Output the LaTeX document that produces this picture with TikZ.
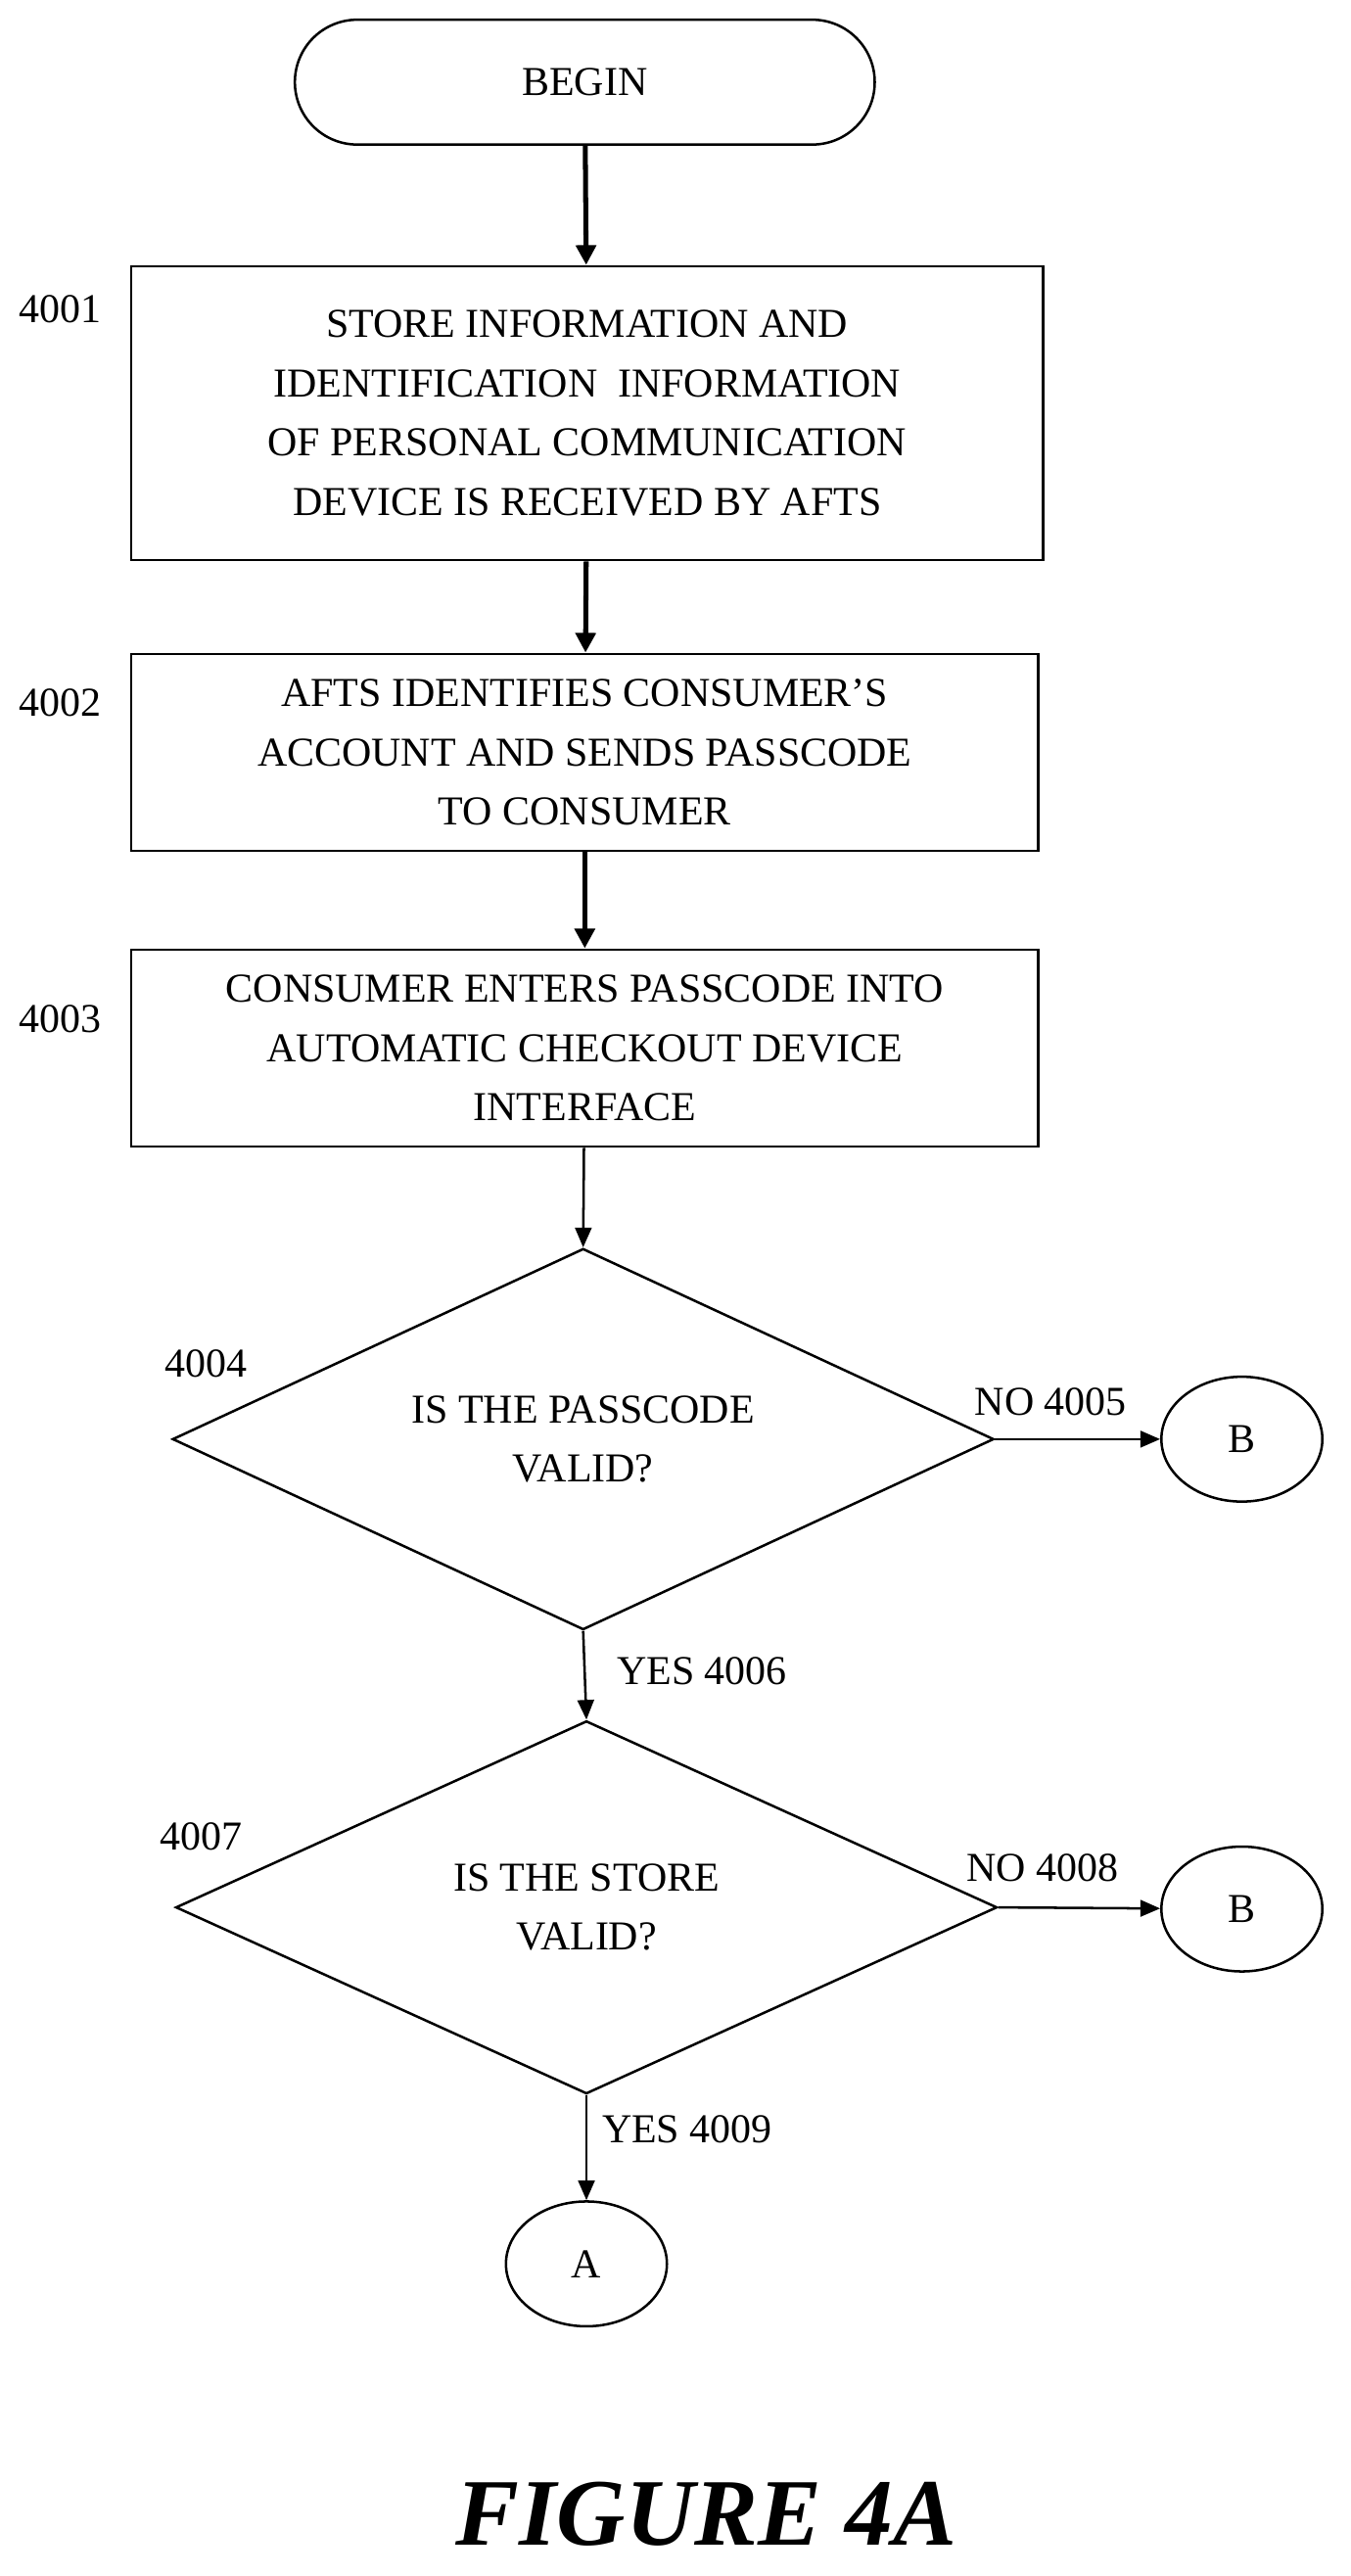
\documentclass[tikz,border=0pt]{standalone}
\usepackage{fontspec}
\setmainfont{Liberation Serif}
\usetikzlibrary{shapes.geometric,arrows.meta}
\begin{document}
\begin{tikzpicture}[x=1pt,y=-1pt,
  every node/.style={font=\fontsize{25}{36}\selectfont, align=center},
  box/.style={draw, line width=1.5pt, inner sep=0pt},
  dia/.style={draw, line width=1.5pt, diamond, inner sep=0pt},
  circ/.style={draw, line width=1.5pt, ellipse, minimum width=98pt, minimum height=76pt},
  thick arr/.style={line width=3pt, -{Triangle[length=12pt,width=12pt]}},
  thin arr/.style={line width=1.5pt, -{Triangle[length=12pt,width=10pt]}},
  lab/.style={anchor=west}]
\useasboundingbox (0,0) rectangle (822,1568);
\node[draw, line width=1.5pt, rounded corners=38pt, minimum width=353pt, minimum height=76pt] (begin) at (356,50) {BEGIN};
\node[box, minimum width=555pt, minimum height=179pt] (b1) at (357.5,251.5) {STORE INFORMATION AND\\IDENTIFICATION\ \ INFORMATION\\OF PERSONAL COMMUNICATION\\DEVICE IS RECEIVED BY AFTS};
\node[box, minimum width=552pt, minimum height=120pt] (b2) at (356,458) {AFTS IDENTIFIES CONSUMER’S\\ACCOUNT AND SENDS PASSCODE\\TO CONSUMER};
\node[box, minimum width=552pt, minimum height=120pt] (b3) at (356,638) {CONSUMER ENTERS PASSCODE INTO\\AUTOMATIC CHECKOUT DEVICE\\INTERFACE};
\node[dia, minimum width=500pt, minimum height=232pt, aspect=2.155] (d1) at (355,876) {};
\node at (355,876) {IS THE PASSCODE\\VALID?};
\node[dia, minimum width=500pt, minimum height=227pt, aspect=2.2] (d2) at (357,1161) {};
\node at (357,1161) {IS THE STORE\\VALID?};
\node[circ] (B1) at (756,876) {B};
\node[circ] (B2) at (756,1162) {B};
\node[circ] (A) at (357,1378) {A};
\draw[thick arr] (begin) -- (b1);
\draw[thick arr] (b1) -- (b2);
\draw[thick arr] (b2) -- (b3);
\draw[thin arr] (b3) -- (d1.north);
\draw[thin arr] (d1.east) -- (B1);
\draw[thin arr] (d1.south) -- (d2.north);
\draw[thin arr] (d2.east) -- (B2);
\draw[thin arr] (d2.south) -- (A);
\node[lab] (l1) at (8,188) {4001};
\node[lab] (l2) at (8,428) {4002};
\node[lab] (l3) at (8,620) {4003};
\node[lab] (l4) at (97,830) {4004};
\node[lab] (l7) at (94,1118) {4007};
\node[lab] (n1) at (590,853) {NO 4005};
\node[lab] (n2) at (585,1137) {NO 4008};
\node[lab] (y1) at (372,1017) {YES 4006};
\node[lab] (y2) at (363,1296) {YES 4009};
\node[font=\fontsize{58}{60}\selectfont\bfseries\itshape] (fig) at (430,1530) {FIGURE 4A};
\end{tikzpicture}
\end{document}
